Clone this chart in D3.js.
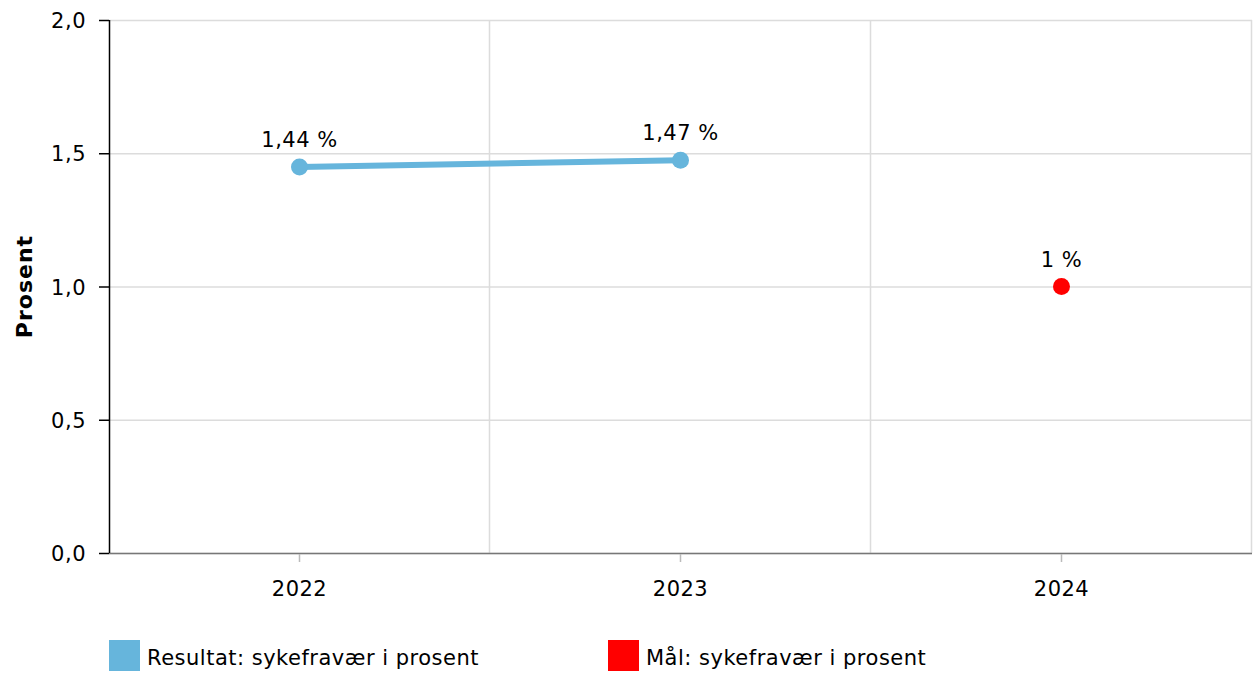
<!DOCTYPE html>
<html>
<head>
<meta charset="utf-8">
<style>
body { margin: 0; background: #fff; }
svg { font-family: Verdana, "DejaVu Sans", sans-serif; }
svg text { font-size: 21px; letter-spacing: 0.5px; }
</style>
<script src="https://d3js.org/d3.v7.min.js"></script>
</head>
<body>
<div id="chart"></div>
<script>
	var years = ['2022', '2023', '2024'];
	var resultYears = ['2022', '2023'];
	var resultValues = [1.448, 1.474];
	var resultLabels = ['1,44 %', '1,47 %'];
	var goalYears = ['2024'];
	var goalValues = [1.0];
	var goalLabels = ['1 %'];
	var yTicks = [0, 0.5, 1.0, 1.5, 2.0];
	var legendNames = ['Resultat: sykefravær i prosent', 'Mål: sykefravær i prosent'];
	var legendColors = ['#66b5dc', '#ff0000'];

	var W = 1254, H = 674;
	var margin = {top: 20, right: 2, bottom: 121, left: 109},
	    width = W - margin.left - margin.right,
	    height = H - margin.top - margin.bottom;

	var x = d3.scaleBand().domain(years).range([0, width]);
	var y = d3.scaleLinear().domain([0, 2]).range([height, 0]);

	var svg = d3.select('#chart').append('svg')
		.attr('width', W).attr('height', H);
	var g = svg.append('g')
		.attr('transform', 'translate(' + margin.left + ',' + margin.top + ')');

	// grid
	g.selectAll('.hgrid').data(yTicks).enter().append('line')
		.attr('x1', 0).attr('x2', width)
		.attr('y1', function(d) { return y(d) + 0.5; })
		.attr('y2', function(d) { return y(d) + 0.5; })
		.attr('stroke', '#dcdcdc').attr('stroke-width', 1.5);
	var bounds = years.slice(1).map(function(d) { return x(d); }).concat([width]);
	g.selectAll('.vgrid').data(bounds).enter().append('line')
		.attr('x1', function(d) { return Math.round(d) - 0.5; })
		.attr('x2', function(d) { return Math.round(d) - 0.5; })
		.attr('y1', 0).attr('y2', height)
		.attr('stroke', '#dcdcdc').attr('stroke-width', 1.5);

	// x axis
	var xa = g.append('g').attr('transform', 'translate(0,' + height + ')');
	xa.append('line').attr('x1', 0).attr('x2', width).attr('y1', 0.5).attr('y2', 0.5)
		.attr('stroke', '#777').attr('stroke-width', 1.5);
	xa.selectAll('.xt').data(years).enter().append('line')
		.attr('x1', function(d) { return x(d) + x.bandwidth() / 2; })
		.attr('x2', function(d) { return x(d) + x.bandwidth() / 2; })
		.attr('y1', 1).attr('y2', 9)
		.attr('stroke', '#bbb').attr('stroke-width', 1.5);
	xa.selectAll('.xl').data(years).enter().append('text')
		.attr('x', function(d) { return x(d) + x.bandwidth() / 2; })
		.attr('y', 43)
		.attr('text-anchor', 'middle')
		.text(function(d) { return d; });

	// y axis
	var ya = g.append('g');
	ya.append('line').attr('x1', 0.5).attr('x2', 0.5).attr('y1', 0).attr('y2', height)
		.attr('stroke', '#000').attr('stroke-width', 1.5);
	ya.selectAll('.yt').data(yTicks).enter().append('line')
		.attr('x1', -10).attr('x2', 0)
		.attr('y1', function(d) { return y(d) + 0.5; })
		.attr('y2', function(d) { return y(d) + 0.5; })
		.attr('stroke', '#000').attr('stroke-width', 1.5);
	ya.selectAll('.yl').data(yTicks).enter().append('text')
		.attr('x', -23)
		.attr('y', function(d) { return y(d) + 8; })
		.attr('text-anchor', 'end')
		.text(function(d) { return d.toFixed(1).replace('.', ','); });

	svg.append('text')
		.attr('transform', 'translate(32,' + (margin.top + height / 2) + ') rotate(-90)')
		.attr('text-anchor', 'middle')
		.style('font-size', '22px').style('font-weight', 'bold')
		.style('letter-spacing', '1px')
		.text('Prosent');

	// result series
	var cx = function(d) { return x(d) + x.bandwidth() / 2; };
	var res = resultYears.map(function(d, i) { return {k: d, v: resultValues[i], l: resultLabels[i]}; });
	var goal = goalYears.map(function(d, i) { return {k: d, v: goalValues[i], l: goalLabels[i]}; });

	g.append('path').datum(res)
		.attr('d', d3.line().x(function(d) { return cx(d.k); }).y(function(d) { return y(d.v); }))
		.attr('fill', 'none').attr('stroke', legendColors[0]).attr('stroke-width', 6);
	g.selectAll('.rp').data(res).enter().append('circle')
		.attr('cx', function(d) { return cx(d.k); })
		.attr('cy', function(d) { return y(d.v); })
		.attr('r', 8.5).attr('fill', legendColors[0]);
	g.selectAll('.gp').data(goal).enter().append('circle')
		.attr('cx', function(d) { return cx(d.k); })
		.attr('cy', function(d) { return y(d.v); })
		.attr('r', 8.5).attr('fill', legendColors[1]);
	g.selectAll('.lbl').data(res.concat(goal)).enter().append('text')
		.attr('x', function(d) { return cx(d.k); })
		.attr('y', function(d) { return y(d.v) - 20; })
		.attr('text-anchor', 'middle')
		.text(function(d) { return d.l; });

	// legend
	var lx = [109, 608];
	var lg = svg.selectAll('.leg').data(legendNames).enter().append('g')
		.attr('transform', function(d, i) { return 'translate(' + lx[i] + ',640)'; });
	lg.append('rect').attr('width', 31).attr('height', 31)
		.attr('fill', function(d, i) { return legendColors[i]; });
	lg.append('text').attr('x', 38).attr('y', 25)
		.text(function(d) { return d; });
</script>
</body>
</html>
